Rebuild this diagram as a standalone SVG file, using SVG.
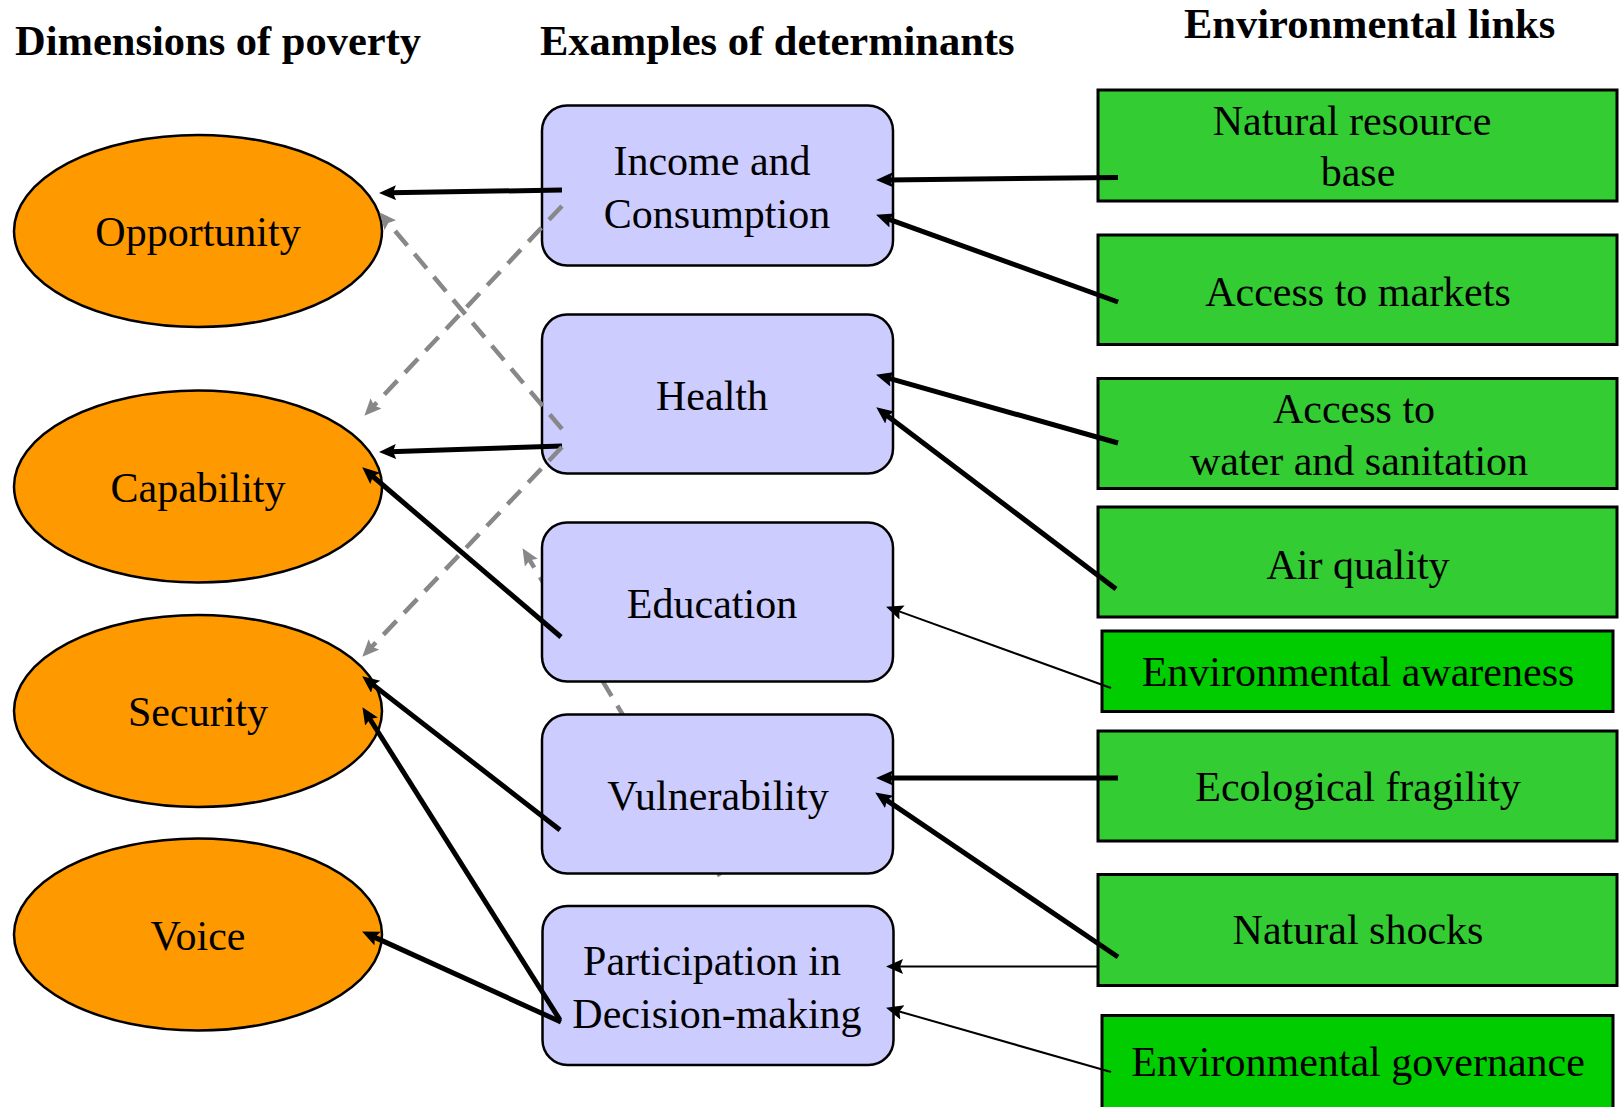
<svg xmlns="http://www.w3.org/2000/svg" width="1621" height="1107" viewBox="0 0 1621 1107">
  <style>
    text { font-family: "Liberation Serif", "Times New Roman", serif; font-size: 42px; fill: #000; }
    .hdr { font-weight: bold; font-size: 42.5px; }
    .mid { text-anchor: middle; }
    .dim { fill: #FF9900; stroke: #000; stroke-width: 2.5; }
    .det { fill: #CCCCFF; stroke: #000; stroke-width: 2.5; }
    .env { fill: #33CC33; stroke: #000; stroke-width: 3; }
    .env2 { fill: #00CC00; stroke: #000; stroke-width: 3; }
    .thick { stroke: #000; stroke-width: 5; fill: none; marker-end: url(#ah); }
    .thin { stroke: #000; stroke-width: 2; fill: none; marker-end: url(#ah); }
    .dash { stroke: #888888; stroke-width: 4.5; stroke-dasharray: 19 11; fill: none; marker-end: url(#ahg); }
  </style>
  <defs>
    <marker id="ah" markerUnits="userSpaceOnUse" markerWidth="18" markerHeight="16" refX="6" refY="7.5" orient="auto">
      <path d="M0,0 L17,7.5 L0,15 L3,7.5 Z" fill="#000"/>
    </marker>
    <marker id="ahg" markerUnits="userSpaceOnUse" markerWidth="18" markerHeight="16" refX="6" refY="7.5" orient="auto">
      <path d="M0,0 L17,7.5 L0,15 L3,7.5 Z" fill="#888888"/>
    </marker>
  </defs>
  <rect width="1621" height="1107" fill="#fff"/>

  <g id="headers">
    <text class="hdr" x="15" y="55">Dimensions of poverty</text>
    <text class="hdr" x="540" y="55">Examples of determinants</text>
    <text class="hdr" x="1184" y="38">Environmental links</text>
  </g>

  <g id="connectors-hidden">
    <line class="dash" x1="720" y1="876" x2="528.2" y2="557.6"/>
  </g>

  <g id="dim-opportunity">
    <ellipse class="dim" cx="198" cy="231" rx="184" ry="96"/>
    <text class="mid" x="198" y="246">Opportunity</text>
  </g>
  <g id="dim-capability">
    <ellipse class="dim" cx="198" cy="486.5" rx="184" ry="96"/>
    <text class="mid" x="198" y="502">Capability</text>
  </g>
  <g id="dim-security">
    <ellipse class="dim" cx="198" cy="711" rx="184" ry="96"/>
    <text class="mid" x="198" y="726">Security</text>
  </g>
  <g id="dim-voice">
    <ellipse class="dim" cx="198" cy="934.5" rx="184" ry="96"/>
    <text class="mid" x="198" y="950">Voice</text>
  </g>

  <g id="det-income">
    <rect class="det" x="542" y="105.5" width="351" height="160" rx="25"/>
    <text class="mid" x="712" y="175">Income and</text>
    <text class="mid" x="717" y="228">Consumption</text>
  </g>
  <g id="det-health">
    <rect class="det" x="542" y="314.5" width="351" height="159" rx="25"/>
    <text class="mid" x="712" y="410">Health</text>
  </g>
  <g id="det-education">
    <rect class="det" x="542" y="522.5" width="351" height="159" rx="25"/>
    <text class="mid" x="712" y="618">Education</text>
  </g>
  <g id="det-vulnerability">
    <rect class="det" x="542" y="714.5" width="351" height="159" rx="25"/>
    <text class="mid" x="718" y="810">Vulnerability</text>
  </g>
  <g id="det-participation">
    <rect class="det" x="542.5" y="906" width="351" height="159" rx="25"/>
    <text class="mid" x="712" y="975">Participation in</text>
    <text class="mid" x="717" y="1028">Decision-making</text>
  </g>

  <g id="env-natural-resource">
    <rect class="env" x="1098" y="90" width="519" height="111"/>
    <text class="mid" x="1352" y="135">Natural resource</text>
    <text class="mid" x="1358" y="186">base</text>
  </g>
  <g id="env-markets">
    <rect class="env" x="1098" y="235" width="519" height="109.5"/>
    <text class="mid" x="1358" y="306">Access to markets</text>
  </g>
  <g id="env-water">
    <rect class="env" x="1098" y="378.5" width="519" height="110"/>
    <text class="mid" x="1354" y="423">Access to</text>
    <text class="mid" x="1359" y="475">water and sanitation</text>
  </g>
  <g id="env-air">
    <rect class="env" x="1098" y="507" width="519" height="110"/>
    <text class="mid" x="1358" y="579">Air quality</text>
  </g>
  <g id="env-awareness">
    <rect class="env2" x="1102" y="631" width="511" height="80.5"/>
    <text class="mid" x="1358" y="686">Environmental awareness</text>
  </g>
  <g id="env-fragility">
    <rect class="env" x="1098" y="731" width="519" height="110"/>
    <text class="mid" x="1358" y="801">Ecological fragility</text>
  </g>
  <g id="env-shocks">
    <rect class="env" x="1098" y="874.5" width="519" height="111"/>
    <text class="mid" x="1358" y="944">Natural shocks</text>
  </g>
  <g id="env-governance">
    <rect class="env2" x="1102" y="1015.5" width="511" height="100"/>
    <text class="mid" x="1358" y="1076">Environmental governance</text>
  </g>

  <g id="connectors">
    <line class="thick" x1="562" y1="190" x2="390" y2="192.8"/>
    <line class="thick" x1="562" y1="446" x2="390" y2="451.7"/>
    <line class="thick" x1="561" y1="637" x2="370.6" y2="474.5"/>
    <line class="thick" x1="560" y1="830" x2="370.9" y2="683.1"/>
    <line class="thick" x1="560" y1="1020" x2="368.3" y2="716.5"/>
    <line class="thick" x1="561" y1="1022" x2="372.1" y2="936.1"/>
    <line class="thick" x1="1118" y1="177.5" x2="887" y2="179.9"/>
    <line class="thick" x1="1118" y1="302" x2="886.4" y2="218.4"/>
    <line class="thick" x1="1118" y1="443" x2="886.6" y2="377.7"/>
    <line class="thick" x1="1116" y1="589" x2="885" y2="414"/>
    <line class="thin" x1="1111" y1="688" x2="896.4" y2="610.4"/>
    <line class="thick" x1="1118" y1="778" x2="887" y2="778"/>
    <line class="thick" x1="1118" y1="957" x2="884.3" y2="798.6"/>
    <line class="thin" x1="1097" y1="966.5" x2="897" y2="966.5"/>
    <line class="thin" x1="1111" y1="1072" x2="896.6" y2="1010.7"/>
    <line class="dash" x1="562" y1="206" x2="371.9" y2="407.7"/>
    <line class="dash" x1="562" y1="429" x2="386.4" y2="220.6"/>
    <line class="dash" x1="562" y1="447" x2="369.9" y2="648.8"/>
  </g>
</svg>
